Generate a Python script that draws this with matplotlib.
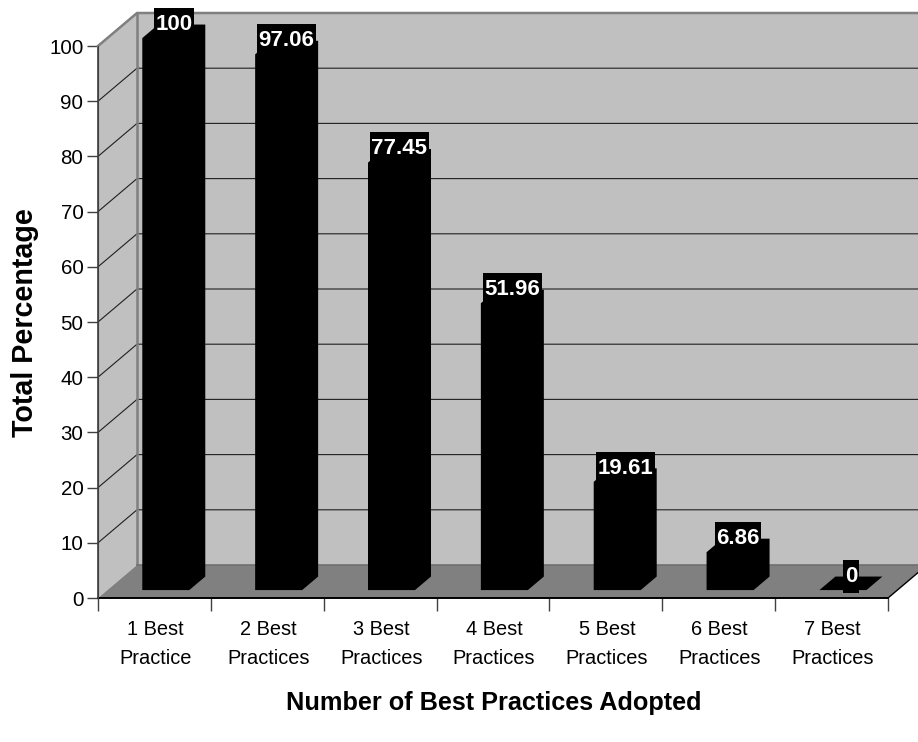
import matplotlib
matplotlib.use("Agg")
import matplotlib.pyplot as plt
from matplotlib.patches import Polygon, Rectangle
from matplotlib.transforms import IdentityTransform

plt.rcParams['font.family'] = ['Liberation Sans', 'DejaVu Sans']

categories = ["1 Best\nPractice", "2 Best\nPractices", "3 Best\nPractices", "4 Best\nPractices",
              "5 Best\nPractices", "6 Best\nPractices", "7 Best\nPractices"]
values = [100, 97.06, 77.45, 51.96, 19.61, 6.86, 0]
value_labels = ["100", "97.06", "77.45", "51.96", "19.61", "6.86", "0"]
yticks = [0, 10, 20, 30, 40, 50, 60, 70, 80, 90, 100]

W, H = 918, 742
fig = plt.figure(figsize=(W / 100, H / 100), dpi=100, facecolor="white")
ax = fig.add_axes([98 / W, (H - 598) / H, 790 / W, 552 / H])
ax.set_xlim(0, 7)
ax.set_ylim(0, 100)

# depth of the 3d box, in data units
DX = 39 / 790 * 7
DY = 33 / 5.52
NEAR, FAR = 0.24, 0.65
BAR_W = 47 / 790 * 7
BAR_SHIFT = 2 / 790 * 7


def dp(x, y, d):
    return (x + DX * d, y + DY * d)


def face(points, color, z, edge="none", lw=0):
    ax.add_patch(Polygon(points, closed=True, facecolor=color, edgecolor=edge,
                         linewidth=lw, zorder=z, clip_on=False))


# walls and floor
face([dp(0, 0, 0), dp(0, 0, 1), dp(0, 100, 1), dp(0, 100, 0)], "#c0c0c0", 1)
face([dp(0, 0, 1), dp(7, 0, 1), dp(7, 100, 1), dp(0, 100, 1)], "#c0c0c0", 1)
face([dp(0, 0, 0), dp(7, 0, 0), dp(7, 0, 1), dp(0, 0, 1)], "#808080", 2)

# gridlines along the side and back wall
for v in yticks[1:]:
    xs, ys = zip(dp(0, v, 0), dp(0, v, 1), dp(7, v, 1))
    ax.plot(xs, ys, color="#202020", lw=0.8, zorder=2, clip_on=False)

# wall edges
xs, ys = zip(dp(0, 0, 0), dp(0, 100, 0), dp(0, 100, 1), dp(7, 100, 1))
ax.plot(xs[:2], ys[:2], color="#404040", lw=1.2, zorder=3, clip_on=False)
ax.plot(xs[1:], ys[1:], color="#808080", lw=1.8, zorder=3, clip_on=False)
xs, ys = zip(dp(0, 0, 1), dp(0, 100, 1))
ax.plot(xs, ys, color="#808080", lw=1.8, zorder=3, clip_on=False)
xs, ys = zip(dp(0, 0, 1), dp(7, 0, 1))
ax.plot(xs, ys, color="#707070", lw=1.2, zorder=3, clip_on=False)
xs, ys = zip(dp(7, 0, 0), dp(7, 0, 1))
ax.plot(xs, ys, color="black", lw=1.0, zorder=3, clip_on=False)

# bars
for i, v in enumerate(values):
    l = i + 0.5 - BAR_W / 2 + BAR_SHIFT
    r = i + 0.5 + BAR_W / 2 + BAR_SHIFT
    face([dp(l, 0, NEAR), dp(r, 0, NEAR), dp(r, 0, FAR), dp(r, v, FAR), dp(l, v, FAR), dp(l, v, NEAR)],
         "black", 4)

fig.canvas.draw()
renderer = fig.canvas.get_renderer()

# value labels sit on black boxes, halfway into the bar depth
for i, (v, lab) in enumerate(zip(values, value_labels)):
    px = dp(i + 0.5 + BAR_SHIFT, v, (NEAR + FAR) / 2)
    t = ax.annotate(lab, px, xytext=(0, 5), textcoords="offset points", ha="center", va="center",
                    color="white", fontsize=16, fontweight="bold", zorder=6, annotation_clip=False)
    bb = t.get_window_extent(renderer)
    cx, cy = (bb.x0 + bb.x1) / 2, (bb.y0 + bb.y1) / 2
    ax.add_patch(Rectangle((bb.x0 - 1.5, cy - 16.5), bb.width + 3, 33, facecolor="black", edgecolor="none",
                           transform=IdentityTransform(), zorder=5, clip_on=False))

# front axis lines and ticks
for s in ["top", "right"]:
    ax.spines[s].set_visible(False)
ax.patch.set_visible(False)
ax.spines["left"].set_color("#404040")
ax.spines["bottom"].set_linewidth(1.4)
ax.spines["left"].set_zorder(3)
ax.set_xticks(range(8))
ax.set_xticklabels([])
ax.set_yticks(yticks)
ax.tick_params(axis="x", length=9, width=1, color="#404040")
ax.tick_params(axis="y", length=8, width=1, color="#404040", labelsize=14.8, pad=2.5)

for i, c in enumerate(categories):
    ax.text(i + 0.5 + 1 / 790 * 7, -3.9, c, ha="center", va="top", fontsize=14.4, linespacing=1.72, clip_on=False)

fig.text(494 / W, 1 - 703 / H, "Number of Best Practices Adopted", ha="center", va="center",
         fontsize=18.2, fontweight="bold")
fig.text(25 / W, 1 - 323 / H, "Total Percentage", ha="center", va="center", rotation=90,
         fontsize=20.6, fontweight="bold")

fig.savefig("out.png", dpi=100)
